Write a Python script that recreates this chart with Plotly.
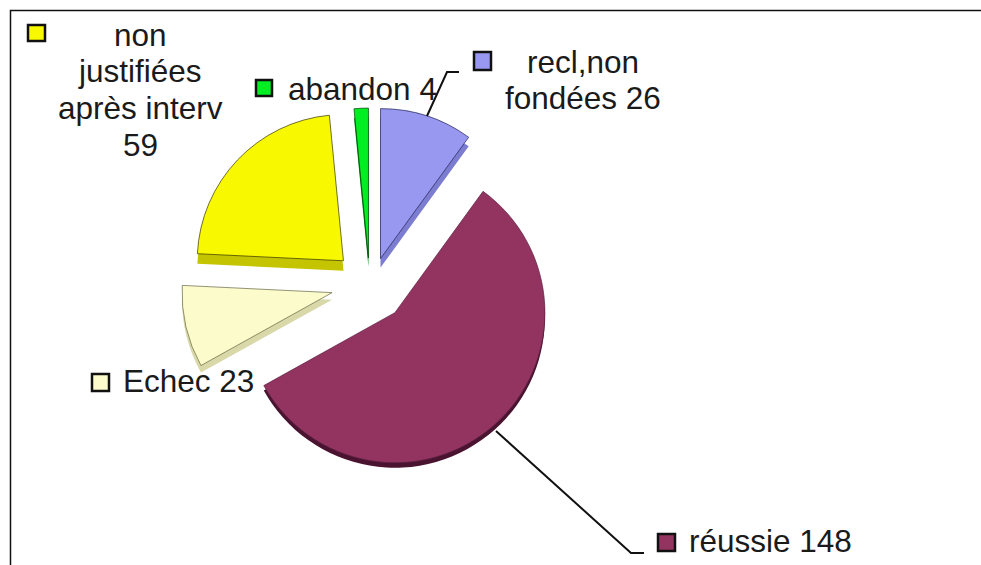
import plotly.graph_objects as go

W, H = 981, 565

categories = ["recl,non fondées", "réussie", "Echec", "non justifiées après interv", "abandon"]
values = [26, 148, 23, 59, 4]

face_colors = ["#9898F0", "#933460", "#FBFBCC", "#F8F800", "#00EE22"]
side_colors = ["#7C7CD0", "#4A1430", "#D8D8A8", "#C4C400", "#008010"]
edge_colors = ["#222255", "#5A2040", "#666644", "#333300", "#004400"]
explode = [0.227, 0.22, 0.253, 0.26, 0.213]

# per-slice fine placement of the pseudo-3D look
nudge_x = [0, 3, -1, 1, 0]
nudge_y = [1, -2, -6, -3, 0]
scale = [1.0, 1.0, 1.0, 0.975, 1.0]
depth = [9, 5, 7, 10, 9]

CLEAR = "rgba(0,0,0,0)"
FONT = dict(family="Liberation Sans, Arial, sans-serif", size=31.5, color="#1a1a1a")


def px(x):
    return x / W


def py(y):
    return 1 - y / H


def pie_domain(dx, dy, k, cx=370, cy=290, half=189):
    h = half * k
    return dict(x=[px(cx + dx - h), px(cx + dx + h)], y=[py(cy + dy + h), py(cy + dy - h)])


def only(items, i):
    return [c if j == i else CLEAR for j, c in enumerate(items)]


def pie(colors, line_colors, line_width, dx, dy, k):
    return go.Pie(
        labels=categories, values=values, pull=explode, sort=False, direction="clockwise",
        rotation=0, textinfo="none", hoverinfo="skip", showlegend=False,
        domain=pie_domain(dx, dy, k),
        marker=dict(colors=colors, line=dict(color=line_colors, width=line_width)),
    )


fig = go.Figure()
n = len(categories)
# Extruded sides behind, faces in front
for i in range(n):
    fig.add_trace(pie(only(side_colors, i), [CLEAR] * n, 0, nudge_x[i], nudge_y[i] + depth[i], scale[i]))
for i in range(n):
    fig.add_trace(pie(only(face_colors, i), only(edge_colors, i), 0.7, nudge_x[i], nudge_y[i], scale[i]))

text_items = [
    ("non", 140, 35, "center"),
    ("justifiées", 140, 71, "center"),
    ("après interv", 140, 108, "center"),
    ("59", 140, 145, "center"),
    ("abandon 4", 286, 89, "left"),
    ("recl,non", 583, 62, "center"),
    ("fondées 26", 583, 98, "center"),
    ("Echec 23", 121, 381, "left"),
    ("réussie 148", 687, 541, "left"),
]
annotations = [
    dict(text=t, x=px(x), y=py(y), xref="paper", yref="paper", xanchor=a, yanchor="middle",
         showarrow=False, font=FONT)
    for t, x, y, a in text_items
]

keys = [
    (28, 25, 45, 41, 3),
    (256, 80, 272, 96, 4),
    (474, 52, 491, 70, 0),
    (92, 374, 109, 391, 2),
    (658, 534, 675, 551, 1),
]
shapes = [
    dict(type="rect", xref="paper", yref="paper", x0=px(a), x1=px(c), y0=py(b), y1=py(d),
         fillcolor=face_colors[i], line=dict(color="#111111", width=2.5))
    for a, b, c, d, i in keys
]


def path_shape(points, width):
    path = "M " + " L ".join(f"{px(x):.5f},{py(y):.5f}" for x, y in points)
    return dict(type="path", xref="paper", yref="paper", path=path,
                line=dict(color="#111111", width=width))


shapes += [
    path_shape([(10.5, 565), (10.5, 10.5), (981, 10.5)], 1.5),
    path_shape([(427, 116), (447, 72), (459, 72)], 2),
    path_shape([(496, 431), (631, 553), (644, 553)], 2),
]

fig.update_layout(
    width=W, height=H, margin=dict(l=0, r=0, t=0, b=0),
    paper_bgcolor="white", plot_bgcolor="white",
    annotations=annotations, shapes=shapes,
)

fig.write_html(
    "out.html",
    config={"displayModeBar": False},
    post_script="document.body.style.margin='0';document.body.style.overflow='hidden';",
)
